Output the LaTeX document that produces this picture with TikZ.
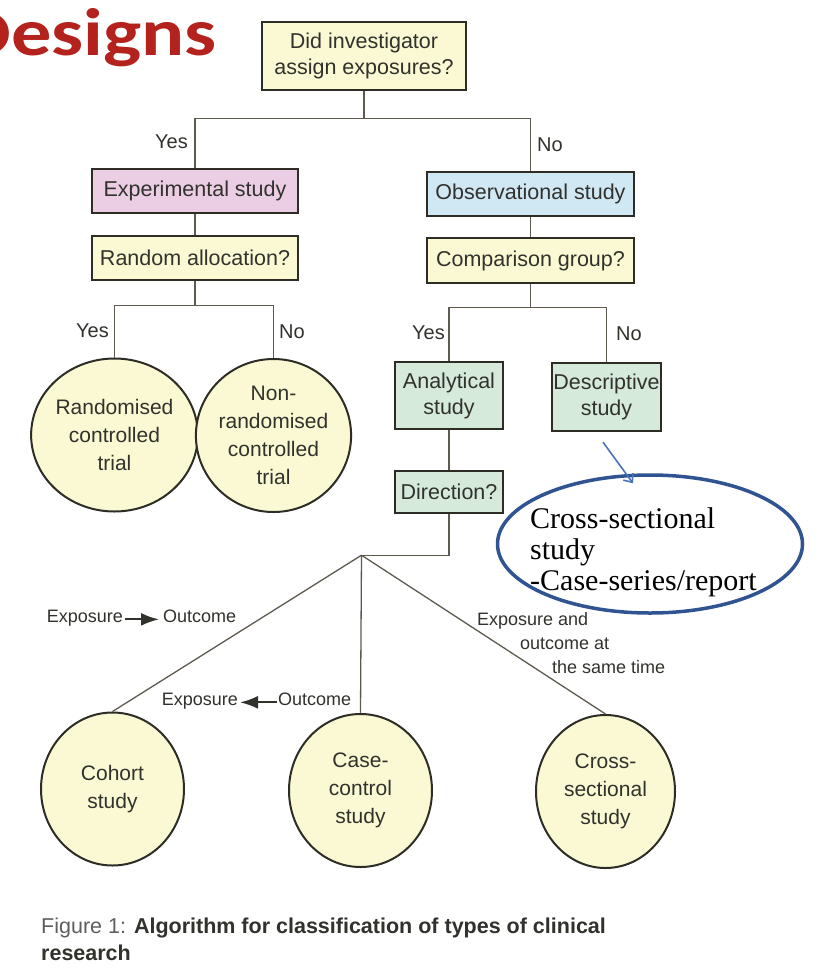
\documentclass[tikz,border=0pt]{standalone}
\usepackage{fontspec}
\setmainfont{Liberation Sans}
\newfontfamily\titlefont[FakeStretch=1.2]{Carlito}
\newfontfamily\notefont{Liberation Serif}
\usepackage{tikz}
\usetikzlibrary{calc}
\usetikzlibrary{arrows.meta,shapes}
\usetikzlibrary{positioning}
\usepackage{xcolor}
\definecolor{titlered}{RGB}{180,34,30}
\definecolor{boxline}{RGB}{45,45,38}
\definecolor{linkgray}{RGB}{95,90,80}
\definecolor{inkgray}{RGB}{50,50,45}
\definecolor{capgray}{RGB}{95,95,95}
\definecolor{paleyellow}{RGB}{250,249,212}
\definecolor{palepink}{RGB}{236,206,228}
\definecolor{paleblue}{RGB}{208,231,244}
\definecolor{palegreen}{RGB}{214,234,220}
\definecolor{noteblue}{RGB}{48,84,145}
\definecolor{arrowblue}{RGB}{75,115,185}

\begin{document}
\begin{tikzpicture}[x=1pt,y=-1pt,
        qbox/.style={draw=boxline,line width=2.4pt,inner sep=0pt,align=center,text=inkgray,font=\fontsize{21.5}{26}\selectfont},
        endnode/.style={ellipse,draw=boxline,line width=2pt,fill=paleyellow,inner sep=0pt,minimum width=143pt,minimum height=153pt,align=center,text=inkgray,font=\fontsize{21}{28}\selectfont},
        lbl/.style={inner sep=0pt,text=inkgray,font=\fontsize{20}{24}\selectfont},
        small/.style={inner sep=0pt,text=inkgray,font=\fontsize{18}{24}\selectfont},
        link/.style={draw=linkgray,line width=1.3pt},
        flow/.style={draw=inkgray,line width=2.2pt,-{Latex[length=18pt,width=13pt]}}]
        \fill[white] (0,0) rectangle (822,970);
        \useasboundingbox (0,0) rectangle (822,970);
        \node[anchor=base east,inner sep=0pt,text=titlered,font=\titlefont\bfseries\fontsize{67}{67}\selectfont] (title) at (217,55) {Designs};

        \node[qbox,fill=paleyellow,minimum width=204pt,minimum height=68pt] (assign) at (364,56) {Did investigator\\assign exposures?};
        \node[qbox,fill=palepink,minimum width=206pt,minimum height=44pt] (exper) at (195,191) {Experimental study};
        \node[qbox,fill=paleblue,minimum width=207pt,minimum height=44pt] (obser) at (530.5,194) {Observational study};
        \node[qbox,fill=paleyellow,minimum width=206pt,minimum height=44pt] (random) at (195,258) {Random allocation?};
        \node[qbox,fill=paleyellow,minimum width=207pt,minimum height=45pt] (compar) at (530.5,260.5) {Comparison group?};
        \node[qbox,fill=palegreen,minimum width=108pt,minimum height=67pt] (analyt) at (449,395.5) {Analytical\\study};
        \node[qbox,fill=palegreen,minimum width=109pt,minimum height=68pt] (descr) at (606.5,397) {Descriptive\\study};
        \node[qbox,fill=palegreen,minimum width=108pt,minimum height=42pt] (direct) at (449,492) {Direction?};

        \node[endnode] (rct) at (114.5,435) {Randomised\\controlled\\trial};
        \node[endnode] (nrct) at (273.5,435.5) {Non-\\randomised\\controlled\\trial};
        \node[endnode] (cohort) at (112.5,789) {Cohort\\study};
        \node[endnode] (casecon) at (360.5,790.5) {Case-\\control\\study};
        \node[endnode,minimum width=139pt] (crosssec) at (605.5,791.5) {Cross-\\sectional\\study};

        \draw[link] (assign.south) -- ++(0,27) coordinate (splitA);
        \draw[link] (exper.north) |- (splitA) -| (obser.north);
        \draw[link] (exper) -- (random);
        \draw[link] (obser) -- (compar);
        \draw[link] (random.south) -- ++(0,24) coordinate (splitB);
        \draw[link] (rct.north) |- (splitB) -| (nrct.north);
        \draw[link] (compar.south) -- ++(0,23) coordinate (splitC);
        \draw[link] (analyt.north) |- (splitC) -| (descr.north);
        \draw[link] (analyt) -- (direct);
        \draw[link] (direct.south) -- ++(0,41) coordinate (splitD) -- ++(-87.5,0) coordinate (hub);
        \draw[link] (hub) -- (cohort.north);
        \draw[link] (hub) -- (casecon.north);
        \draw[link] (hub) -- (crosssec.north);

        \node[lbl,anchor=east] (yesA) at (188,142) {Yes};
        \node[lbl,anchor=west] (noA) at (537,145) {No};
        \node[lbl,anchor=east] (yesB) at (109,331) {Yes};
        \node[lbl,anchor=west] (noB) at (279,332) {No};
        \node[lbl,anchor=east] (yesC) at (445,333) {Yes};
        \node[lbl,anchor=west] (noC) at (616,334) {No};

        \node[small,anchor=base east] (expA) at (123,622) {Exposure};
        \node[small,anchor=base west] (outA) at (163,622) {Outcome};
        \draw[flow,shorten <=2pt,shorten >=4pt] (expA.mid east) -- (outA.mid west);
        \node[small,anchor=base east] (expB) at (238,705) {Exposure};
        \node[small,anchor=base west] (outB) at (278,705) {Outcome};
        \draw[flow,shorten <=1pt,shorten >=2pt] (outB.mid west) -- (expB.mid east);
        \node[small,anchor=base west,align=left] (simult) at (477,673) {Exposure and\\\hspace*{43pt}outcome at\\\hspace*{75pt}the same time};

        \node[ellipse,draw=noteblue,line width=3.5pt,inner sep=0pt,minimum width=305pt,minimum height=138pt] (note) at (650,544) {};
        \node[anchor=base west,inner sep=0pt,align=left,font=\notefont\fontsize{30}{31}\selectfont] (notetxt) at (530,590) {Cross-sectional\\study\\-Case-series/report};
        \draw[arrowblue,line width=1.6pt,-{Straight Barb[length=7pt,width=12pt]}] ([xshift=-3.5pt,yshift=-10pt]descr.south) -- ([xshift=-17pt,yshift=-10pt]note.north);

        \node[anchor=base west,align=left,inner sep=0pt,text=inkgray,font=\fontsize{21.5}{27}\selectfont] (caption) at (41,960) {\textcolor{capgray}{Figure 1:} \textbf{Algorithm for classification of types of clinical}\\\textbf{research}};
\end{tikzpicture}
\end{document}
